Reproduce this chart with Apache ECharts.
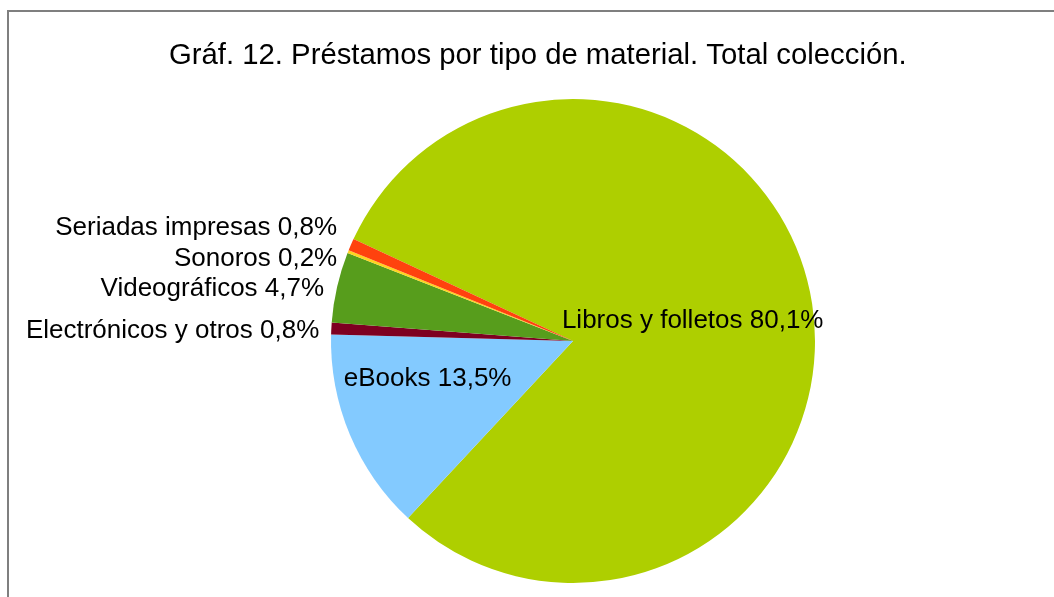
<!DOCTYPE html>
<html>
<head>
<meta charset="utf-8">
<script src="https://cdn.jsdelivr.net/npm/echarts@6/dist/echarts.min.js"></script>
<style>
  html, body { margin: 0; padding: 0; background: #fff; }
  #frame { position: absolute; left: 7px; top: 10px; width: 1100px; height: 650px;
           border-left: 2px solid #7f7f7f; border-top: 2px solid #7f7f7f; }
  #main { position: absolute; left: 0; top: 0; width: 1054px; height: 597px; }
</style>
</head>
<body>
<div id="frame"></div>
<div id="main"></div>
<script>
// clockwise order starting from the upper-left boundary
var categories = ['Libros y folletos', 'eBooks', 'Electrónicos y otros', 'Videográficos', 'Sonoros', 'Seriadas impresas'];
var values = [80.1, 13.5, 0.8, 4.7, 0.2, 0.8];
var colors = ['#AECF00', '#83CAFF', '#7E0021', '#579D1C', '#FFD320', '#FF420E'];

// small nudges for the outside labels, [dx, dy]
var labelShift = [[0, 0], [0, 0], [0, 3], [2, -7], [10, -9], [2, -12]];

var chart = echarts.init(document.getElementById('main'));

var pieData = categories.map(function (name, i) {
    var item = { name: name, value: values[i], itemStyle: { color: colors[i] } };
    if (i == 0) item.label = { position: 'inside', offset: [-2, 4] };
    if (i == 1) item.label = { position: 'inside', offset: [-31, -10] };
    return item;
});

var option = {
    backgroundColor: 'transparent',
    animation: false,
    title: {
        text: 'Gráf. 12. Préstamos por tipo de material. Total colección.',
        left: 164,
        top: 36,
        textStyle: {
            fontFamily: 'Liberation Sans',
            fontWeight: 'normal',
            fontSize: 29.3,
            color: '#000'
        }
    },
    series: [{
        type: 'pie',
        center: [573, 341],
        radius: 242,
        startAngle: 155.1,
        clockwise: true,
        avoidLabelOverlap: true,
        itemStyle: { borderWidth: 0 },
        label: {
            show: true,
            position: 'outside',
            fontFamily: 'Liberation Sans',
            fontSize: 26,
            color: '#000',
            formatter: function (p) {
                return p.name + ' ' + String(p.value).replace('.', ',') + '%';
            }
        },
        labelLine: { show: false, length: 12, length2: 0 },
        labelLayout: function (p) {
            var s = labelShift[p.dataIndex];
            return { dx: s[0], dy: s[1] };
        },
        emphasis: { disabled: true },
        data: pieData
    }]
};

chart.setOption(option);
</script>
</body>
</html>
